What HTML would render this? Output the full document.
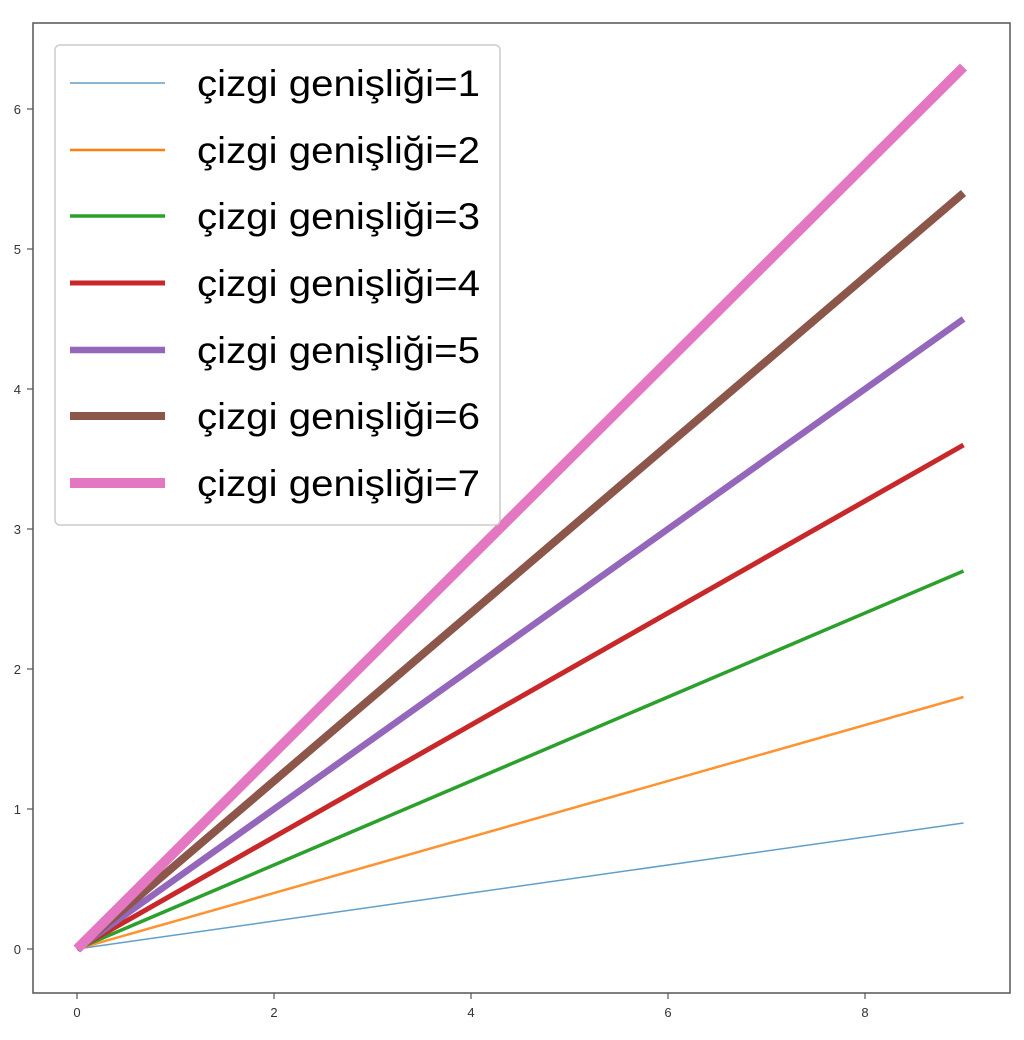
<!DOCTYPE html>
<html><head><meta charset="utf-8"><style>body{margin:0;background:#fff}svg{display:block}</style></head><body>
<svg width="1024" height="1040" xmlns="http://www.w3.org/2000/svg" font-family="Liberation Sans, DejaVu Sans, sans-serif">
<rect width="1024" height="1040" fill="#fff"/>
<g stroke-linecap="butt">
<line x1="77" y1="949" x2="963.5" y2="823" stroke="#1f77b4" stroke-width="1.5" opacity="0.7"/>
<line x1="77" y1="949" x2="963.5" y2="697" stroke="#ff7f0e" stroke-width="2.5" opacity="0.85"/>
<line x1="77" y1="949" x2="963.5" y2="571" stroke="#2ca02c" stroke-width="3.5"/>
<line x1="77" y1="949" x2="963.5" y2="445" stroke="#c9282a" stroke-width="5"/>
<line x1="77" y1="949" x2="963.5" y2="319" stroke="#9467bd" stroke-width="6.5"/>
<line x1="77" y1="949" x2="963.5" y2="193" stroke="#8c564b" stroke-width="8"/>
<line x1="77" y1="949" x2="963.5" y2="67" stroke="#e377c2" stroke-width="10"/>
</g>
<rect x="33" y="23" width="977" height="970" fill="none" stroke="#555" stroke-width="1.5"/>
<g stroke="#555" stroke-width="1.2">
<line x1="77" y1="993" x2="77" y2="999"/><line x1="274" y1="993" x2="274" y2="999"/><line x1="471" y1="993" x2="471" y2="999"/><line x1="668" y1="993" x2="668" y2="999"/><line x1="865" y1="993" x2="865" y2="999"/>
<line x1="27" y1="949" x2="33" y2="949"/><line x1="27" y1="809" x2="33" y2="809"/><line x1="27" y1="669" x2="33" y2="669"/><line x1="27" y1="529" x2="33" y2="529"/><line x1="27" y1="389" x2="33" y2="389"/><line x1="27" y1="249" x2="33" y2="249"/><line x1="27" y1="109" x2="33" y2="109"/>
</g>
<g font-size="13" fill="#333" text-anchor="middle">
<text x="77" y="1017">0</text><text x="274" y="1017">2</text><text x="471" y="1017">4</text><text x="668" y="1017">6</text><text x="865" y="1017">8</text>
</g>
<g font-size="13" fill="#333" text-anchor="end">
<text x="21" y="954">0</text><text x="21" y="814">1</text><text x="21" y="674">2</text><text x="21" y="534">3</text><text x="21" y="394">4</text><text x="21" y="254">5</text><text x="21" y="114">6</text>
</g>
<rect x="55" y="45" width="445" height="480" rx="5" fill="#fff" fill-opacity="0.9" stroke="#ccc" stroke-width="1.5"/>
<g>
<line x1="70" y1="83" x2="165" y2="83" stroke="#1f77b4" stroke-width="1.5" opacity="0.7"/>
<line x1="70" y1="150" x2="165" y2="150" stroke="#ff7f0e" stroke-width="2.5"/>
<line x1="70" y1="216" x2="165" y2="216" stroke="#2ca02c" stroke-width="3.5"/>
<line x1="70" y1="283" x2="165" y2="283" stroke="#c9282a" stroke-width="5"/>
<line x1="70" y1="350" x2="165" y2="350" stroke="#9467bd" stroke-width="6.5"/>
<line x1="70" y1="416" x2="165" y2="416" stroke="#8c564b" stroke-width="8"/>
<line x1="70" y1="483" x2="165" y2="483" stroke="#e377c2" stroke-width="10"/>
</g>
<g font-size="37" fill="#000">
<text x="197" y="96" textLength="283" lengthAdjust="spacingAndGlyphs">çizgi genişliği=1</text>
<text x="197" y="163" textLength="283" lengthAdjust="spacingAndGlyphs">çizgi genişliği=2</text>
<text x="197" y="229" textLength="283" lengthAdjust="spacingAndGlyphs">çizgi genişliği=3</text>
<text x="197" y="296" textLength="283" lengthAdjust="spacingAndGlyphs">çizgi genişliği=4</text>
<text x="197" y="363" textLength="283" lengthAdjust="spacingAndGlyphs">çizgi genişliği=5</text>
<text x="197" y="429" textLength="283" lengthAdjust="spacingAndGlyphs">çizgi genişliği=6</text>
<text x="197" y="496" textLength="283" lengthAdjust="spacingAndGlyphs">çizgi genişliği=7</text>
</g>
</svg>
</body></html>
